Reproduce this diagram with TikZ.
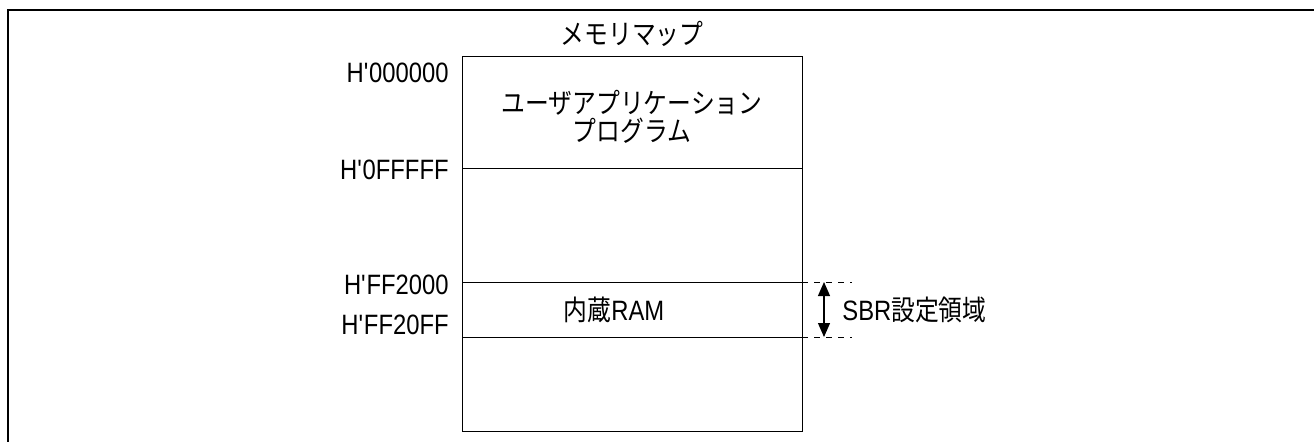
\documentclass[tikz,border=0pt]{standalone}
\usepackage{fontspec}
\setmainfont{Liberation Sans}[FakeStretch=0.85]
\newfontfamily\jp{Noto Sans CJK JP}[FakeStretch=0.85]
\usetikzlibrary{arrows.meta}
\begin{document}
\begin{tikzpicture}[x=0.5pt,y=-0.5pt,
  lbl/.style={font=\fontsize{14}{16}\selectfont, inner sep=0pt},
  addr/.style={lbl, anchor=east},
  frame/.style={line width=1.1pt},
  mapline/.style={line width=0.5pt},
  dashline/.style={line width=0.45pt, dash pattern=on 3pt off 3pt},
  dblarrow/.style={line width=0.6pt, {Triangle[length=7pt,width=6pt]}-{Triangle[length=7pt,width=6pt]}}]
\useasboundingbox (0,0) rectangle (1314,441);
\draw[frame] (8,445) -- (8,10) -- (1320,10);
% memory map box
\coordinate (tl) at (462,56);
\coordinate (br) at (802,431);
\draw[mapline] (tl) rectangle (br);
\coordinate (l1) at (462,168); \coordinate (r1) at (802,168);
\coordinate (l2) at (462,282); \coordinate (r2) at (802,282);
\coordinate (l3) at (462,337); \coordinate (r3) at (802,337);
\draw[mapline] (l1) -- (r1);
\draw[mapline] (l2) -- (r2);
\draw[mapline] (l3) -- (r3);
% title
\node[lbl] (title) at (632,34) {\jp メモリマップ};
% addresses
\node[addr] (a0) at (449,73) {H\textquotesingle 000000};
\node[addr] (a1) at (449,170) {H\textquotesingle 0FFFFF};
\node[addr] (a2) at (449,285) {H\textquotesingle FF2000};
\node[addr] (a3) at (449,325) {H\textquotesingle FF20FF};
% contents
\node[lbl] (app1) at (632,103) {\jp ユーザアプリケーション};
\node[lbl] (app2) at (632,131) {\jp プログラム};
\node[lbl] (ram) at (614,310) {{\jp 内蔵}RAM};
% SBR region
\coordinate (d1) at (852,282);
\coordinate (d2) at (852,337);
\draw[dashline] (r2) -- (d1);
\draw[dashline] (r3) -- (d2);
\coordinate (aT) at (824,282);
\coordinate (aB) at (824,337);
\draw[dblarrow] (aT) -- (aB);
\node[lbl, anchor=west] (sbr) at (842,310) {SBR{\jp 設定領域}};
\end{tikzpicture}
\end{document}
